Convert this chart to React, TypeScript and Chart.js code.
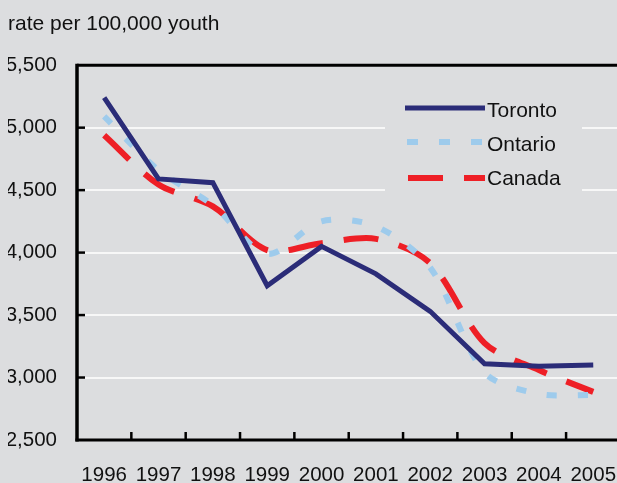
import React, { useEffect, useRef } from 'react';
import { Chart, registerables } from 'chart.js';

Chart.register(...registerables);

const years = ['1996', '1997', '1998', '1999', '2000', '2001', '2002', '2003', '2004', '2005'];
const toronto = [5240, 4590, 4560, 3735, 4050, 3830, 3530, 3110, 3090, 3100];
const ontario = [5090, 4660, 4380, 3990, 4250, 4210, 3880, 3040, 2870, 2860];
const canada = [4940, 4545, 4370, 4020, 4075, 4110, 3915, 3275, 3060, 2885];
const yTicks = [2500, 3000, 3500, 4000, 4500, 5000, 5500];
const seriesNames = ['Toronto', 'Ontario', 'Canada'];
const titleText = 'rate per 100,000 youth';

const FONT = '"Liberation Sans", Arial, Helvetica, sans-serif';
const BG = '#dcdddf';
const NAVY = '#2b2c78';
const LIGHTBLUE = '#9ecbec';
const RED = '#ee1f26';

const framePlugin = {
  id: 'frame',
  afterDatasetsDraw(chart: any) {
    const { ctx, chartArea: a, scales } = chart;
    const x = scales.x;
    const y = scales.y;
    const line = (x1: number, y1: number, x2: number, y2: number) => {
      ctx.beginPath();
      ctx.moveTo(x1, y1);
      ctx.lineTo(x2, y2);
      ctx.stroke();
    };
    ctx.save();
    ctx.strokeStyle = '#000';
    ctx.lineCap = 'butt';
    ctx.lineWidth = 2.5;
    for (const v of yTicks.slice(1, -1)) {
      const py = y.getPixelForValue(v);
      line(a.left, py, a.left + 8, py);
    }
    for (let i = 0; i < years.length - 1; i++) {
      const px = (x.getPixelForValue(i) + x.getPixelForValue(i + 1)) / 2;
      line(px, a.bottom, px, a.bottom - 8);
    }
    ctx.lineWidth = 3;
    line(a.left, a.top, a.right, a.top);
    line(a.left - 1.5, a.bottom, a.right, a.bottom);
    ctx.lineWidth = 3.5;
    line(a.left, a.top - 1.5, a.left, a.bottom + 1.5);
    ctx.restore();
  },
  afterDraw(chart: any) {
    const { ctx } = chart;
    ctx.save();
    ctx.fillStyle = BG;
    ctx.fillRect(385, 88, 197, 110);
    ctx.lineCap = 'butt';
    // Toronto
    ctx.strokeStyle = NAVY;
    ctx.lineWidth = 5;
    ctx.setLineDash([]);
    ctx.beginPath();
    ctx.moveTo(405, 108);
    ctx.lineTo(485, 108);
    ctx.stroke();
    // Ontario
    ctx.strokeStyle = LIGHTBLUE;
    ctx.lineWidth = 6;
    ctx.setLineDash([11, 21]);
    ctx.beginPath();
    ctx.moveTo(407, 142);
    ctx.lineTo(485, 142);
    ctx.stroke();
    // Canada
    ctx.strokeStyle = RED;
    ctx.setLineDash([35, 21]);
    ctx.beginPath();
    ctx.moveTo(408, 178);
    ctx.lineTo(485, 178);
    ctx.stroke();
    ctx.setLineDash([]);
    ctx.fillStyle = '#111';
    ctx.font = `21px ${FONT}`;
    ctx.textAlign = 'left';
    ctx.textBaseline = 'alphabetic';
    ctx.fillText(seriesNames[0], 487, 116.5);
    ctx.fillText(seriesNames[1], 487, 150.5);
    ctx.fillText(seriesNames[2], 487, 184.5);
    ctx.restore();
  },
};

export default function App() {
  const ref = useRef<HTMLCanvasElement | null>(null);
  useEffect(() => {
    if (!ref.current) return;
    const chart = new Chart(ref.current, {
      type: 'line',
      data: {
        labels: years,
        datasets: [
          {
            label: seriesNames[0],
            data: toronto,
            borderColor: NAVY,
            borderWidth: 5,
            tension: 0,
            pointRadius: 0,
            fill: false,
            borderJoinStyle: 'miter',
          },
          {
            label: seriesNames[1],
            data: ontario,
            borderColor: LIGHTBLUE,
            borderWidth: 6,
            borderDash: [10, 21],
            borderCapStyle: 'butt',
            tension: 0.3,
            pointRadius: 0,
            fill: false,
          },
          {
            label: seriesNames[2],
            data: canada,
            borderColor: RED,
            borderWidth: 6,
            borderDash: [35, 21],
            borderCapStyle: 'butt',
            tension: 0.3,
            pointRadius: 0,
            fill: false,
          },
        ],
      },
      options: {
        responsive: false,
        animation: false,
        devicePixelRatio: 1,
        layout: { padding: { left: 8, right: 19, top: 0, bottom: 0 } },
        plugins: {
          legend: { display: false },
          tooltip: { enabled: false },
          title: {
            display: true,
            text: titleText,
            align: 'start',
            color: '#111',
            font: { size: 21, family: FONT, weight: 'normal' },
            padding: { top: 12, bottom: 28 },
          },
        },
        scales: {
          x: {
            type: 'category',
            offset: true,
            grid: { display: false, drawTicks: false },
            border: { display: false },
            ticks: {
              color: '#111',
              font: { size: 20.5, family: FONT },
              padding: 23,
              maxRotation: 0,
              autoSkip: false,
            },
            afterFit: (s: any) => {
              s.height = 43;
            },
          },
          y: {
            min: 2500,
            max: 5500,
            grid: { color: '#f7f7f7', lineWidth: 2, drawTicks: false },
            border: { display: false },
            afterBuildTicks: (s: any) => {
              s.ticks = yTicks.map((v) => ({ value: v }));
            },
            ticks: {
              color: '#111',
              font: { size: 20.5, family: FONT },
              padding: 20,
              callback: (v: any) => Number(v).toLocaleString('en-US'),
            },
            afterFit: (s: any) => {
              s.width = 69;
            },
          },
        },
      },
      plugins: [framePlugin],
    });
    return () => chart.destroy();
  }, []);
  return (
    <div
      style={{
        position: 'fixed',
        left: 0,
        top: 0,
        width: 617,
        height: 483,
        overflow: 'hidden',
        background: BG,
      }}
    >
      <canvas ref={ref} width={640} height={483} style={{ display: 'block' }} />
    </div>
  );
}
